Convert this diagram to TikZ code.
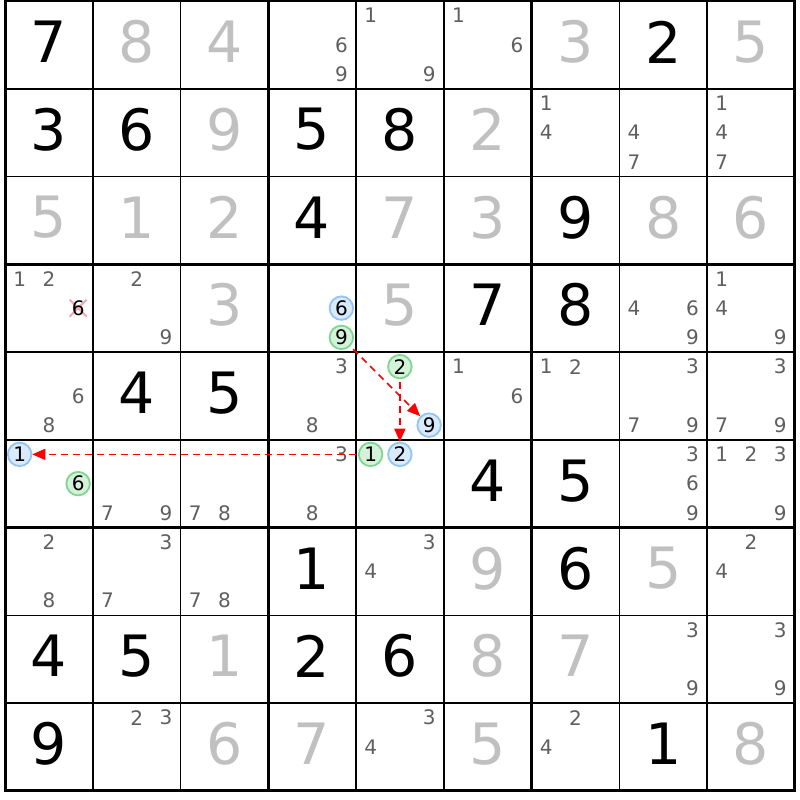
\documentclass[tikz,border=0pt]{standalone}
\usepackage{fontspec}
\setmainfont{DejaVu Sans}
\usetikzlibrary{arrows.meta}
\definecolor{thin}{HTML}{D8D8D8}
\definecolor{solved}{HTML}{C0C0C0}
\definecolor{pencol}{HTML}{5F5F5F}
\definecolor{bfill}{HTML}{D8EAFC}
\definecolor{bline}{HTML}{94C4F2}
\definecolor{gfill}{HTML}{D4F2DA}
\definecolor{gline}{HTML}{80D690}
\definecolor{xcol}{HTML}{F4A4B4}
\tikzset{
  bigk/.style={inner sep=0pt, font=\fontsize{57}{57}\selectfont, text=black},
  bigg/.style={inner sep=0pt, font=\fontsize{57}{57}\selectfont, text=solved},
  pen/.style={inner sep=0pt, font=\fontsize{20}{20}\selectfont, text=pencol},
  cblue/.style={circle, inner sep=0pt, minimum size=23.5pt, draw=bline, fill=bfill, line width=1.8pt, font=\fontsize{20}{20}\selectfont, text=black},
  cgreen/.style={circle, inner sep=0pt, minimum size=23.5pt, draw=gline, fill=gfill, line width=1.8pt, font=\fontsize{20}{20}\selectfont, text=black},
  chain/.style={red, line width=1.5pt, dash pattern=on 7pt off 5pt, -{Triangle[length=13pt,width=11pt]}},
  thinline/.style={thin, line width=1.5pt},
  thickline/.style={black, line width=3pt},
  xmark/.style={xcol, line width=2pt}
}
\newcommand\Kd[3]{\node[bigk] (d-#1-#2) at ({5+(#2-0.5)*87.75},{1+(#1-0.5)*87.75-3}) {#3};}
\newcommand\Gd[3]{\node[bigg] (d-#1-#2) at ({5+(#2-0.5)*87.75},{1+(#1-0.5)*87.75-3}) {#3};}
\newcommand\Pd[3]{\node[pen] (p-#1-#2-#3) at ({5+(#2-1)*87.75+87.75*(2*mod(#3-1,3)+1)/6},{1+(#1-1)*87.75+87.75*(2*floor((#3-1)/3)+1)/6}) {#3};}
\newcommand\Pl[3]{\foreach \dd in {#3}{\Pd{#1}{#2}{\dd}}}
\newcommand\Cd[4]{\node[#4] (c-#1-#2-#3) at ({5+(#2-1)*87.75+87.75*(2*mod(#3-1,3)+1)/6},{1+(#1-1)*87.75+87.75*(2*floor((#3-1)/3)+1)/6}) {#3};}
\begin{document}
\begin{tikzpicture}[x=1pt,y=-1pt]
\useasboundingbox (0,0) rectangle (800,800);
\fill[white] (0,0) rectangle (800,800);
% thin grid
\foreach \i in {1,2,4,5,7,8}{
  \draw[thinline] ({5+\i*87.75},1) -- ({5+\i*87.75},790.75);
  \draw[thinline] (5,{1+\i*87.75}) -- (794.75,{1+\i*87.75});
}
\foreach \i in {0,3,6,9}{
  \draw[thickline] ({5+\i*87.75},-0.5) -- ({5+\i*87.75},792.25);
  \draw[thickline] (3.5,{1+\i*87.75}) -- (796.25,{1+\i*87.75});
}
% row 1
\Kd{1}{1}{7}\Gd{1}{2}{8}\Gd{1}{3}{4}\Pl{1}{4}{6,9}\Pl{1}{5}{1,9}\Pl{1}{6}{1,6}\Gd{1}{7}{3}\Kd{1}{8}{2}\Gd{1}{9}{5}
% row 2
\Kd{2}{1}{3}\Kd{2}{2}{6}\Gd{2}{3}{9}\Kd{2}{4}{5}\Kd{2}{5}{8}\Gd{2}{6}{2}\Pl{2}{7}{1,4}\Pl{2}{8}{4,7}\Pl{2}{9}{1,4,7}
% row 3
\Gd{3}{1}{5}\Gd{3}{2}{1}\Gd{3}{3}{2}\Kd{3}{4}{4}\Gd{3}{5}{7}\Gd{3}{6}{3}\Kd{3}{7}{9}\Gd{3}{8}{8}\Gd{3}{9}{6}
% row 4
\Pl{4}{1}{1,2}
\coordinate (xc) at (78.125,308.125);
\draw[xmark] ([shift={(-8.5,-8.5)}]xc) -- ([shift={(8.5,8.5)}]xc);
\draw[xmark] ([shift={(-8.5,8.5)}]xc) -- ([shift={(8.5,-8.5)}]xc);
\node[pen, text=black] (p-4-1-6) at (xc) {6};
\Pl{4}{2}{2,9}\Gd{4}{3}{3}
\Cd{4}{4}{6}{cblue}\Cd{4}{4}{9}{cgreen}
\Gd{4}{5}{5}\Kd{4}{6}{7}\Kd{4}{7}{8}\Pl{4}{8}{4,6,9}\Pl{4}{9}{1,4,9}
% row 5
\Pl{5}{1}{6,8}\Kd{5}{2}{4}\Kd{5}{3}{5}\Pl{5}{4}{3,8}
\Cd{5}{5}{2}{cgreen}\Cd{5}{5}{9}{cblue}
\Pl{5}{6}{1,6}\Pl{5}{7}{1,2}\Pl{5}{8}{3,7,9}\Pl{5}{9}{3,7,9}
% row 6
\Cd{6}{1}{1}{cblue}\Cd{6}{1}{6}{cgreen}
\Pl{6}{2}{7,9}\Pl{6}{3}{7,8}\Pl{6}{4}{3,8}
\Cd{6}{5}{1}{cgreen}\Cd{6}{5}{2}{cblue}
\Kd{6}{6}{4}\Kd{6}{7}{5}\Pl{6}{8}{3,6,9}\Pl{6}{9}{1,2,3,9}
% row 7
\Pl{7}{1}{2,8}\Pl{7}{2}{3,7}\Pl{7}{3}{7,8}\Kd{7}{4}{1}\Pl{7}{5}{3,4}\Gd{7}{6}{9}\Kd{7}{7}{6}\Gd{7}{8}{5}\Pl{7}{9}{2,4}
% row 8
\Kd{8}{1}{4}\Kd{8}{2}{5}\Gd{8}{3}{1}\Kd{8}{4}{2}\Kd{8}{5}{6}\Gd{8}{6}{8}\Gd{8}{7}{7}\Pl{8}{8}{3,9}\Pl{8}{9}{3,9}
% row 9
\Kd{9}{1}{9}\Pl{9}{2}{2,3}\Gd{9}{3}{6}\Gd{9}{4}{7}\Pl{9}{5}{3,4}\Gd{9}{6}{5}\Pl{9}{7}{2,4}\Kd{9}{8}{1}\Gd{9}{9}{8}
% chain arrows
\draw[chain, shorten <=4pt] (c-4-4-9) -- (c-5-5-9);
\draw[chain, shorten <=3pt] (c-5-5-2) -- (c-6-5-2);
\draw[chain, shorten <=2pt] (c-6-5-1) -- (c-6-1-1);
\end{tikzpicture}
\end{document}
